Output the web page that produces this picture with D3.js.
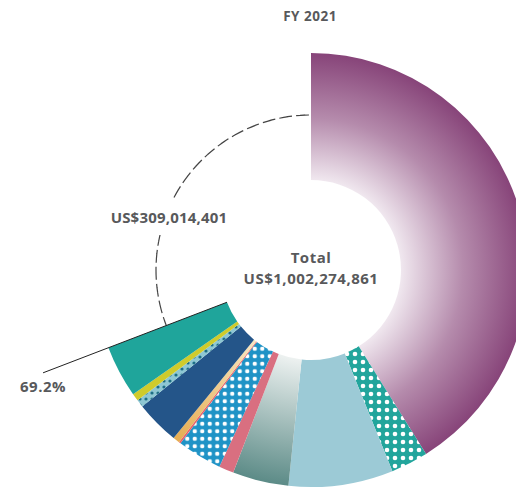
<!DOCTYPE html>
<html>
<head>
<meta charset="utf-8">
<script src="https://cdn.jsdelivr.net/npm/d3@7"></script>
<style>
  body { margin: 0; background: #fff; }
  text { font-family: "Open Sans", sans-serif; font-weight: 700; fill: #58595b; }
</style>
</head>
<body>
<div id="chart"></div>
<script>
// slices of the FY 2021 total, clockwise from 12 o'clock
var categories = ['A', 'B', 'C', 'D', 'E', 'F', 'G', 'H', 'I', 'J', 'K', 'L'];
var values = [412000000, 27800000, 78000000, 41800000, 11100000, 33400000,
              1400000, 5000000, 32800000, 5600000, 5600000, 38760460];
var fills = ['url(#gPurple)', 'url(#pTeal)', '#9ccad6', 'url(#gGrey)', '#d96f80', 'url(#pBlue)',
             '#e8606a', 'url(#gOrange)', '#245589', 'url(#pLight)', '#cfcb2b', '#1fa59b'];
var remainder = 309014401;
var totalLabel = 'US$1,002,274,861';
var remainderLabel = 'US$309,014,401';
var shareLabel = '69.2%';

var width = 516, height = 488,
    cx = 311, cy = 270,
    outerR = 217, innerR = 90, dashR = 155;

var svg = d3.select('#chart')
    .append('svg')
    .attr('width', width)
    .attr('height', height);

var defs = svg.append('defs');

// gradients are used inside the translated group, so centre on 0,0
function radial(id, stops) {
    var g = defs.append('radialGradient')
        .attr('id', id)
        .attr('gradientUnits', 'userSpaceOnUse')
        .attr('cx', 0).attr('cy', 0).attr('r', outerR);
    stops.forEach(s => g.append('stop').attr('offset', s[0]).attr('stop-color', s[1]));
}
radial('gPurple', [[0.41, '#f1e9f0'], [0.7, '#b58bac'], [1, '#874479']]);
radial('gGrey', [[0.41, '#eef2f1'], [1, '#5c8b87']]);
radial('gOrange', [[0.41, '#f6e6c2'], [1, '#e6ad52']]);

function dots(id, bg, dot, step, r) {
    var p = defs.append('pattern')
        .attr('id', id)
        .attr('patternUnits', 'userSpaceOnUse')
        .attr('width', step).attr('height', step);
    p.append('rect').attr('width', step).attr('height', step).attr('fill', bg);
    p.append('circle').attr('cx', step / 2).attr('cy', step / 2).attr('r', r).attr('fill', dot);
}
dots('pTeal', '#22a59c', '#fff', 8, 2.3);
dots('pBlue', '#1f93c6', '#fff', 7.5, 2.2);
dots('pLight', '#8ec7d3', '#1d6f86', 6, 1.6);

var pie = d3.pie().sort(null).value(d => d)(values.concat([remainder]));
var arcs = pie.slice(0, values.length);
var rest = pie[values.length];

var g = svg.append('g').attr('transform', `translate(${cx},${cy})`);

var arc = d3.arc().innerRadius(innerR).outerRadius(outerR);

g.selectAll('.slice')
    .data(arcs)
    .enter()
    .append('path')
    .attr('class', 'slice')
    .attr('d', arc)
    .attr('fill', (d, i) => fills[i]);

// dashed arc for the remainder
g.append('path')
    .attr('d', d3.arc().innerRadius(dashR).outerRadius(dashR)
        .startAngle(rest.startAngle).endAngle(rest.endAngle)())
    .attr('fill', 'none')
    .attr('stroke', '#444')
    .attr('stroke-width', 1.2)
    .attr('stroke-dasharray', '9,8');

// leader line along the 69.2% edge
var a = rest.startAngle;
g.append('line')
    .attr('x1', innerR * Math.sin(a)).attr('y1', -innerR * Math.cos(a))
    .attr('x2', 287 * Math.sin(a)).attr('y2', -287 * Math.cos(a))
    .attr('stroke', '#222')
    .attr('stroke-width', 1);

svg.append('text')
    .attr('x', 310).attr('y', 21)
    .attr('text-anchor', 'middle')
    .attr('font-size', 13.5)
    .attr('letter-spacing', 0.5)
    .text('FY 2021');

g.append('text')
    .attr('x', 0).attr('y', -7)
    .attr('text-anchor', 'middle')
    .attr('font-size', 15)
    .attr('letter-spacing', 0.5)
    .text('Total');

g.append('text')
    .attr('x', 0).attr('y', 14)
    .attr('text-anchor', 'middle')
    .attr('font-size', 15)
    .attr('letter-spacing', 0.5)
    .text(totalLabel);

// remainder label sits on a white box that breaks the dashed arc
var remBox = svg.append('rect').attr('fill', '#fff');
var remText = svg.append('text')
    .attr('x', 169).attr('y', 223)
    .attr('text-anchor', 'middle')
    .attr('font-size', 15)
    .attr('letter-spacing', 0.2)
    .text(remainderLabel);
var bb = remText.node().getBBox();
remBox.attr('x', bb.x - 4).attr('y', bb.y - 8)
    .attr('width', bb.width + 8).attr('height', bb.height + 16);

svg.append('text')
    .attr('x', 20).attr('y', 392)
    .attr('font-size', 15)
    .attr('letter-spacing', 0.5)
    .text(shareLabel);
</script>
</body>
</html>
